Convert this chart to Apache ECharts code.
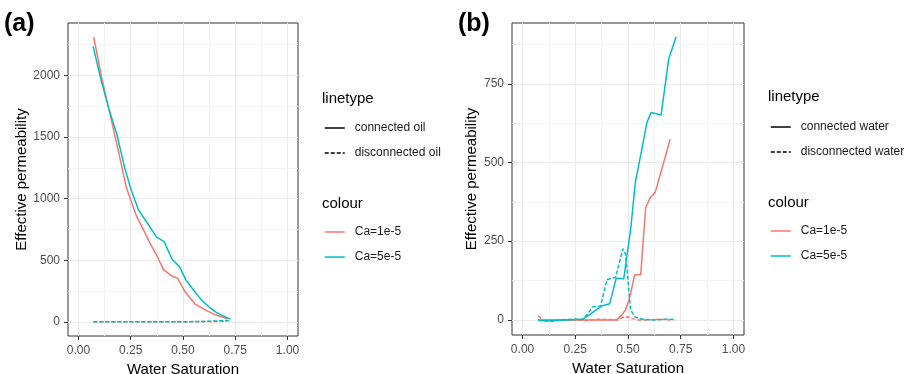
<!DOCTYPE html>
<html><head><meta charset="utf-8">
<script src="https://cdn.jsdelivr.net/npm/echarts@6/dist/echarts.min.js"></script>
<style>html,body{margin:0;padding:0;background:#fff}#c{width:918px;height:374px}</style>
</head><body><div id="c"></div>
<script>
// ---------- data ----------
const xTitle = 'Water Saturation';
const yTitle = 'Effective permeability';
const colourNames = ['Ca=1e-5', 'Ca=5e-5'];
const linetypeA = ['connected oil', 'disconnected oil'];
const linetypeB = ['connected water', 'disconnected water'];
const panelTags = ['(a)', '(b)'];

const xMajor = [0, 0.25, 0.5, 0.75, 1];
const xMinor = [0.125, 0.375, 0.625, 0.875];
const aYMajor = [0, 500, 1000, 1500, 2000];
const aYMinor = [250, 750, 1250, 1750, 2250];
const bYMajor = [0, 250, 500, 750];
const bYMinor = [125, 375, 625, 875];

// panel (a): oil
const aRedConnected = [[0.073,2310],[0.11,1990],[0.145,1730],[0.19,1394],[0.228,1097],[0.25,989],[0.279,853],[0.31,750],[0.342,638],[0.374,540],[0.407,424],[0.445,373],[0.474,354],[0.509,246],[0.556,146],[0.608,95],[0.655,57],[0.712,25]];
const aCyanConnected = [[0.07,2235],[0.11,1950],[0.145,1730],[0.184,1520],[0.218,1270],[0.247,1097],[0.287,908],[0.33,800],[0.374,688],[0.41,651],[0.447,510],[0.483,448],[0.514,340],[0.55,258],[0.588,178],[0.625,120],[0.659,77],[0.69,50],[0.727,22]];
const aRedDisconnected = [[0.073,0],[0.2,0],[0.35,0],[0.5,1],[0.6,2],[0.712,5]];
const aCyanDisconnected = [[0.07,0],[0.2,0],[0.35,0],[0.5,1],[0.6,3],[0.727,12]];

// panel (b): water
const bRedConnected = [[0.074,0],[0.15,0],[0.25,0],[0.35,0],[0.446,0],[0.47,15],[0.488,32],[0.505,63],[0.532,143],[0.56,143],[0.584,356],[0.604,387],[0.629,405],[0.70,574]];
const bCyanConnected = [[0.074,-2],[0.13,-2],[0.2,0],[0.285,2],[0.33,22],[0.374,44],[0.413,51],[0.444,132],[0.48,131],[0.513,290],[0.535,438],[0.562,530],[0.59,628],[0.61,659],[0.657,651],[0.693,829],[0.728,899]];
const bRedDisconnected = [[0.074,13],[0.097,0],[0.13,-3],[0.17,0],[0.25,0],[0.3,-2],[0.36,2],[0.41,1],[0.45,0],[0.475,8],[0.5,10],[0.52,4],[0.545,0],[0.6,0],[0.65,2],[0.70,0]];
const bCyanDisconnected = [[0.074,0],[0.1,-3],[0.128,-5],[0.167,-2],[0.2,1],[0.24,2],[0.285,2],[0.31,20],[0.333,42],[0.37,44],[0.4,128],[0.441,135],[0.476,226],[0.488,210],[0.497,150],[0.512,32],[0.535,8],[0.57,2],[0.62,0],[0.66,1],[0.69,3],[0.728,0]];

// ---------- styling ----------
const FONT = '"Liberation Sans", Arial, Helvetica, sans-serif';
const RED = '#F8766D', CYAN = '#00BFC4';
const LW = 1.5;
const DASH = [4, 2];

function xAxes(g) {
  return [
    { type:'value', gridIndex:g, min:-0.05, max:1.05, position:'bottom',
      axisLine:{show:false, onZero:false},
      axisTick:{show:true, length:4, customValues:xMajor, lineStyle:{color:'#333', width:1}},
      axisLabel:{customValues:xMajor, formatter:v=>Number(v).toFixed(2), color:'#4D4D4D', fontSize:12, fontFamily:FONT, margin:9},
      splitLine:{show:true, lineStyle:{color:'#EBEBEB', width:1.1}},
      name:xTitle, nameLocation:'middle', nameGap:18,
      nameTextStyle:{fontSize:15, color:'#000', fontFamily:FONT} },
    { type:'value', gridIndex:g, min:-0.05, max:1.05, position:'top',
      axisLine:{show:false, onZero:false},
      axisTick:{show:false, customValues:xMinor},
      axisLabel:{show:false, customValues:xMinor},
      splitLine:{show:true, lineStyle:{color:'#F3F3F3', width:1}} }
  ];
}
function yAxes(g, mn, mx, major, minor, gap) {
  return [
    { type:'value', gridIndex:g, min:mn, max:mx, position:'left',
      axisLine:{show:false, onZero:false},
      axisTick:{show:true, length:4, customValues:major, lineStyle:{color:'#333', width:1}},
      axisLabel:{customValues:major, formatter:v=>String(v), color:'#4D4D4D', fontSize:12, fontFamily:FONT, margin:8},
      splitLine:{show:true, lineStyle:{color:'#EBEBEB', width:1.1}},
      name:yTitle, nameLocation:'middle', nameGap:gap,
      nameTextStyle:{fontSize:15, color:'#000', fontFamily:FONT} },
    { type:'value', gridIndex:g, min:mn, max:mx, position:'right',
      axisLine:{show:false, onZero:false},
      axisTick:{show:false, customValues:minor},
      axisLabel:{show:false, customValues:minor},
      splitLine:{show:true, lineStyle:{color:'#F3F3F3', width:1}} }
  ];
}
function line(name, data, color, dashed, g) {
  return { type:'line', name:name, data:data, xAxisIndex:2*g, yAxisIndex:2*g,
    symbol:'none', showSymbol:false, silent:true, animation:false,
    lineStyle:{color:color, width:LW, type: dashed ? DASH : 'solid'},
    itemStyle:{color:color} };
}
function legendBlock(names, left, top) {
  return { data:names, orient:'vertical', left:left, top:top, padding:0,
    itemWidth:20, itemHeight:14, itemGap:13, selectedMode:false,
    lineStyle:{width:LW},
    itemStyle:{color:'transparent', borderColor:'transparent', borderWidth:0, opacity:0},
    textStyle:{fontSize:12, color:'#1A1A1A', fontFamily:FONT, padding:[0,0,0,5]} };
}
function titleText(text, left, top, size, bold) {
  return { text:text, left:left, top:top, padding:0,
    textStyle:{fontSize:size, fontWeight: bold ? 'bold' : 'normal', color:'#000', fontFamily:FONT} };
}

const chart = echarts.init(document.getElementById('c'), null, {renderer:'canvas'});
chart.setOption({
  animation:false,
  backgroundColor:'#fff',
  title:[
    titleText(panelTags[0], 4, 12, 25, true),
    titleText(panelTags[1], 458, 12, 25, true),
    titleText('linetype', 322, 91, 15, false),
    titleText('colour', 322, 196, 15, false),
    titleText('linetype', 768, 89, 15, false),
    titleText('colour', 768, 195, 15, false)
  ],
  grid:[
    {left:68, top:23, width:230, height:313, show:true, backgroundColor:'#fff', borderColor:'#333', borderWidth:1, containLabel:false, outerBoundsMode:'none'},
    {left:512, top:23, width:232, height:312, show:true, backgroundColor:'#fff', borderColor:'#333', borderWidth:1, containLabel:false, outerBoundsMode:'none'}
  ],
  xAxis: xAxes(0).concat(xAxes(1)),
  yAxis: yAxes(0, -115, 2425, aYMajor, aYMinor, 38).concat(yAxes(1, -48, 943, bYMajor, bYMinor, 33)),
  legend:[
    legendBlock(linetypeA, 324, 122),
    legendBlock(colourNames, 324, 226),
    legendBlock(linetypeB, 770, 121),
    legendBlock(colourNames, 770, 225)
  ],
  series:[
    line(colourNames[0], aRedConnected, RED, false, 0),
    line(colourNames[0], aRedDisconnected, RED, true, 0),
    line(colourNames[1], aCyanConnected, CYAN, false, 0),
    line(colourNames[1], aCyanDisconnected, CYAN, true, 0),
    line(linetypeA[0], [], '#000', false, 0),
    line(linetypeA[1], [], '#000', true, 0),
    line(colourNames[0], bRedConnected, RED, false, 1),
    line(colourNames[0], bRedDisconnected, RED, true, 1),
    line(colourNames[1], bCyanConnected, CYAN, false, 1),
    line(colourNames[1], bCyanDisconnected, CYAN, true, 1),
    line(linetypeB[0], [], '#000', false, 1),
    line(linetypeB[1], [], '#000', true, 1)
  ]
});
</script>
</body></html>
